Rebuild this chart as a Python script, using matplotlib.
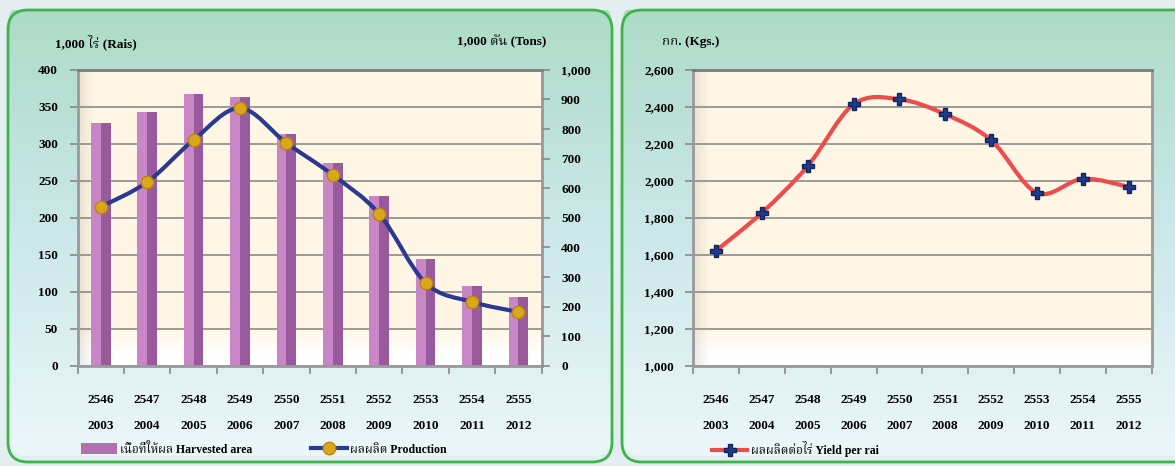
import matplotlib
matplotlib.use("Agg")
import matplotlib.pyplot as plt
import numpy as np
from matplotlib.patches import FancyBboxPatch, PathPatch, Rectangle
from matplotlib.path import Path
from matplotlib.lines import Line2D
from matplotlib.ticker import FuncFormatter, MultipleLocator

plt.rcParams['font.family'] = ['Liberation Serif', 'Noto Serif Thai', 'DejaVu Sans']
plt.rcParams['font.weight'] = 'bold'
plt.rcParams['font.size'] = 9.5

# data
thai_years = ['2546', '2547', '2548', '2549', '2550', '2551', '2552', '2553', '2554', '2555']
years = ['2003', '2004', '2005', '2006', '2007', '2008', '2009', '2010', '2011', '2012']
harvested_area = [328, 343, 367, 364, 313, 274, 230, 145, 108, 93]        # 1,000 rai
production = [537, 621, 763, 871, 753, 645, 513, 280, 216, 182]           # 1,000 tons
yield_per_rai = [1623, 1828, 2081, 2414, 2441, 2360, 2220, 1935, 2011, 1968]  # kg

W, H = 1175, 466
fig = plt.figure(figsize=(W / 100, H / 100), dpi=100)
fig.patch.set_facecolor('#E4EEF0')

# background panels with vertical gradient
bg = fig.add_axes([0, 0, 1, 1], zorder=-5)
bg.set_xlim(0, W)
bg.set_ylim(H, 0)
bg.axis('off')
cols = np.array([[0.68, 0.86, 0.78], [0.80, 0.91, 0.92], [0.93, 0.97, 0.98]])
t = np.linspace(0, 1, 256)
grad = np.stack([np.interp(t, [0, 0.5, 1], cols[:, k]) for k in range(3)], axis=1)
grad = np.repeat(grad[:, None, :], 2, axis=1)
for x0, x1 in [(8, 612), (622, 1200)]:
    box = FancyBboxPatch((x0, 10), x1 - x0, 452, boxstyle='round,pad=0,rounding_size=20',
                         facecolor='none', edgecolor='#3DB54A', linewidth=2)
    im = bg.imshow(grad, extent=[x0, x1, 462, 10], aspect='auto')
    im.set_clip_path(box)
    bg.add_patch(box)

# soft bevel inside the plot areas
shade = np.ones((100, 100, 4))
shade[..., :3] = [1.0, 0.965, 0.90]
yy = np.linspace(0, 1, 100)[:, None]
xx = np.linspace(0, 1, 100)[None, :]
white = np.clip((yy - 0.88) / 0.08, 0, 1)
shade[..., :3] = shade[..., :3] * (1 - white[..., None]) + white[..., None]
left = np.clip(1 - xx / 0.03, 0, 1) * 0.18
shade[..., :3] = shade[..., :3] * (1 - left[..., None]) + left[..., None] * np.array([0.6, 0.55, 0.5])


def smooth_path(xs, ys):
    pts = np.column_stack([xs, ys]).astype(float)
    verts = [pts[0]]
    codes = [Path.MOVETO]
    n = len(pts)
    for i in range(n - 1):
        p0 = pts[max(i - 1, 0)]
        p1 = pts[i]
        p2 = pts[i + 1]
        p3 = pts[min(i + 2, n - 1)]
        verts += [p1 + (p2 - p0) / 6, p2 - (p3 - p1) / 6, p2]
        codes += [Path.CURVE4] * 3
    return Path(verts, codes)


def style_axes(ax, n):
    ax.set_facecolor('#FFF6E6')
    ax.imshow(shade, extent=[0, 1, 0, 1], transform=ax.transAxes, aspect='auto', zorder=0)
    ax.set_xlim(-0.5, n - 0.5)
    ax.set_xticks(np.arange(-0.5, n, 1))
    ax.set_xticklabels([])
    ax.set_xticks(np.arange(n), minor=True)
    ax.set_xticklabels([a + '\n' + b for a, b in zip(thai_years, years)], minor=True)
    ax.tick_params(axis='x', which='minor', length=0, pad=20)
    ax.tick_params(axis='x', which='major', length=6, color='#888888', width=1.2)
    ax.tick_params(axis='y', length=6, color='#888888', width=1.2, pad=8)
    for lbl in ax.get_xticklabels(minor=True):
        lbl.set_linespacing(2.6)
    for s in ax.spines.values():
        s.set_color('#9A9A9A')
        s.set_linewidth(2)
    ax.spines['top'].set_color('#7A7A7A')
    ax.grid(axis='y', color='#8C8C8C', linewidth=1.2)
    ax.set_axisbelow(True)


comma = FuncFormatter(lambda v, p: f'{int(v):,}')
x = np.arange(len(years))

# left chart
ax1 = fig.add_axes([0.066, 0.215, 0.395, 0.635])
style_axes(ax1, len(years))
ax1.bar(x, harvested_area, width=0.42, color='#C986C6', zorder=2)
ax1.bar(x + 0.105, harvested_area, width=0.21, color='#985A9D', zorder=2)
ax1.set_ylim(0, 400)
ax1.yaxis.set_major_locator(MultipleLocator(50))

ax2 = ax1.twinx()
ax2.set_ylim(0, 1000)
ax2.yaxis.set_major_locator(MultipleLocator(100))
ax2.yaxis.set_major_formatter(comma)
ax2.tick_params(axis='y', length=6, color='#888888', width=1.2, pad=8)
for s in ax2.spines.values():
    s.set_visible(False)
ax2.add_patch(PathPatch(smooth_path(x, production), facecolor='none', edgecolor='#2B3990',
                        linewidth=3, zorder=3))
ax2.plot(x, production, linestyle='none', marker='o', markersize=9, color='#D9A61E',
         markeredgecolor='#B8860B', zorder=4)

fig.text(0.047, 0.91, '1,000 ไร่ (Rais)', ha='left', va='center', fontsize=9.5)
fig.text(0.465, 0.91, '1,000 ตัน (Tons)', ha='right', va='center', fontsize=9.5)

h_bar = Rectangle((0, 0), 1, 1, facecolor='#B070B2')
h_prod = Line2D([], [], color='#2B3990', linewidth=3, marker='o', markersize=9,
                markerfacecolor='#D9A61E', markeredgecolor='#B8860B')
fig.legend([h_bar, h_prod], ['เนื้อที่ให้ผล Harvested area', 'ผลผลิต Production'],
           loc='center left', bbox_to_anchor=(0.064, 0.036), ncol=2, frameon=False,
           handlelength=3.0, handleheight=1.0, columnspacing=5.0, handletextpad=0.3,
           fontsize=8.5, borderpad=0)

# right chart
ax3 = fig.add_axes([0.590, 0.215, 0.390, 0.635])
style_axes(ax3, len(years))
ax3.set_ylim(1000, 2600)
ax3.yaxis.set_major_locator(MultipleLocator(200))
ax3.yaxis.set_major_formatter(comma)
ax3.add_patch(PathPatch(smooth_path(x, yield_per_rai), facecolor='none', edgecolor='#EE4B4B',
                        linewidth=3, zorder=3))
ax3.plot(x, yield_per_rai, linestyle='none', marker='P', markersize=9, color='#1F3A8A',
         markeredgecolor='#12245E', zorder=4)
fig.text(0.563, 0.91, 'กก. (Kgs.)', ha='left', va='center', fontsize=9.5)

h_yield = Line2D([], [], color='#EE4B4B', linewidth=3, marker='P', markersize=9,
                 markerfacecolor='#1F3A8A', markeredgecolor='#12245E')
fig.legend([h_yield], ['ผลผลิตต่อไร่ Yield per rai'], loc='center left',
           bbox_to_anchor=(0.601, 0.036), frameon=False, handlelength=3.0,
           handletextpad=0.3, fontsize=8.5, borderpad=0)

fig.savefig('out.png', dpi=100, facecolor=fig.get_facecolor())
